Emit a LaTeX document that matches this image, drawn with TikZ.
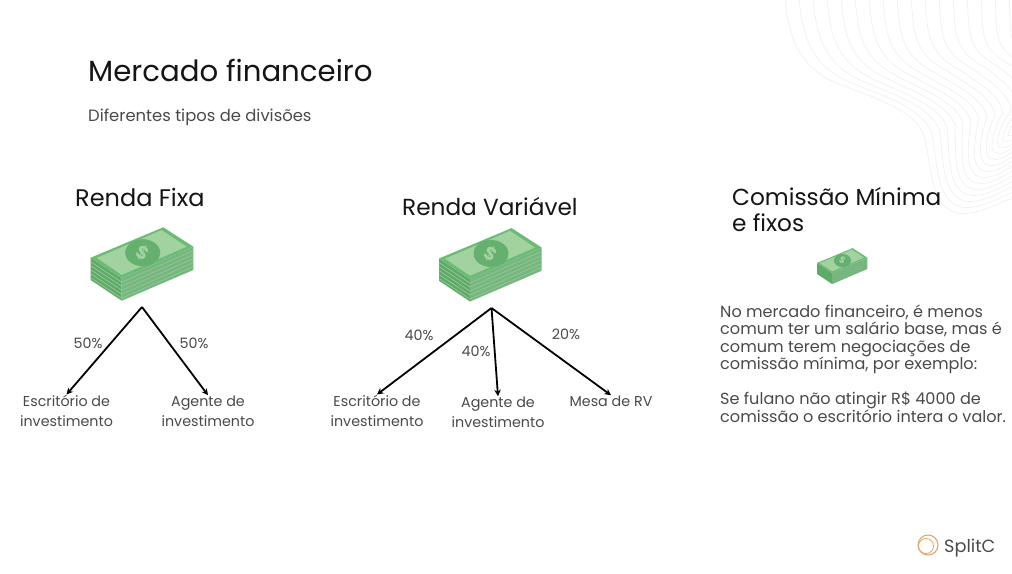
\documentclass[tikz,border=0pt]{standalone}
\usepackage{fontspec}
\setmainfont{Poppins}
\usetikzlibrary{arrows.meta}
\definecolor{titlec}{HTML}{151515}
\definecolor{labelc}{HTML}{4A4A4A}
\definecolor{wave}{HTML}{EFEFEF}
\definecolor{billedge}{HTML}{6CBB75}
\definecolor{billface}{HTML}{A3D2A1}
\definecolor{billseal}{HTML}{65B06F}
\definecolor{billside}{HTML}{5FA96A}
\definecolor{billline}{HTML}{8FC792}
\definecolor{logoc}{HTML}{E5A66B}
\tikzset{
  head/.style={anchor=base west,inner sep=0pt,text=titlec,font=\fontsize{23.2}{26}\selectfont},
  sub/.style={anchor=base west,inner sep=0pt,text=labelc,font=\fontsize{16.4}{18}\selectfont},
  lab/.style={anchor=base,inner sep=0pt,text=labelc,align=center,font=\fontsize{14.3}{20}\selectfont},
  pct/.style={anchor=center,inner sep=0pt,text=labelc,font=\fontsize{14.3}{16}\selectfont},
  para/.style={anchor=base west,inner sep=0pt,text=labelc,align=left,font=\fontsize{16.1}{17.5}\selectfont},
  arr/.style={draw=black,line width=1.8pt,-{Stealth[length=6.5pt,width=6.5pt]}},
}
\newcommand{\moneystack}[4]{%
  \begin{scope}[shift={(#1,#2)},scale=#3]
    \fill[billside] (0,0) -- (31,20.6) -- (31,43) -- (0,22.3) -- cycle;
    \fill[billside!85!white] (31,20.6) -- (102.6,-11) -- (102.6,12.3) -- (31,43) -- cycle;
    \foreach \j in {#4}{
      \draw[billline,line width=0.8pt] (0,\j) -- (31,20.6+\j) -- (102.6,-11+\j);
    }
    \fill[billedge] (0,0) -- (72.6,-30.4) -- (102.6,-11) -- (31,20.6) -- cycle;
    \fill[billface] (6,0.2) -- (71,-27.6) -- (96,-11) -- (31,17.2) -- cycle;
    \fill[billseal] (52,-5) ellipse (17.5 and 13.5);
    \node[inner sep=0pt,text=billface,rotate=-30,transform shape,font=\bfseries\fontsize{18}{18}\selectfont] (seal#1) at (52,-5) {\$};
  \end{scope}}
\begin{document}
\begin{tikzpicture}[x=1pt,y=-1pt]
\useasboundingbox (0,0) rectangle (1012,573);
\fill[white] (0,0) rectangle (1012,573);
\begin{scope}
  \clip (0,0) rectangle (1012,573);
  \foreach \i in {0,...,16}{
    \draw[wave,line width=0.6pt]
      (785+14*\i,-2) .. controls (788+14*\i,30) and (795+13*\i,62-\i) .. (830+13*\i,80-\i)
      .. controls (860+12*\i,94-\i) and (910+9*\i,105-\i) .. (923+8*\i,133-2*\i)
      .. controls (932+6*\i,160-3*\i) and (928+6*\i,205-5*\i) .. (957+4*\i,213-6*\i)
      .. controls (975+3*\i,216-6*\i) and (995+2*\i,205-6*\i) .. (1014+\i,197-6*\i);
  }
\end{scope}

\node[head,font=\fontsize{29.2}{34}\selectfont] (title) at (88,81) {Mercado financeiro};
\node[sub] (subtitle) at (88,121) {Diferentes tipos de divisões};

\node[head,font=\fontsize{24}{26}\selectfont] (rf) at (75,206) {Renda Fixa};
\node[head] (rv) at (402,215) {Renda Variável};
\node[head,align=left] (cm) at (732,231) {Comissão Mínima\\e fixos};

\moneystack{90.7}{257.7}{1}{4,8,12,16,20}
\moneystack{439}{258.5}{1}{4,8,12,16,20}
\moneystack{817}{263}{0.49}{}

\coordinate (apexA) at (142,307);
\coordinate (apexB) at (491.5,308);

\node[lab] (a1) at (66.5,426) {Escritório de\\investimento};
\node[lab] (a2) at (208,426) {Agente de\\investimento};
\node[lab] (b1) at (377,426) {Escritório de\\investimento};
\node[lab] (b2) at (498,427) {Agente de\\investimento};
\node[lab] (b3) at (611,406) {Mesa de RV};

\draw[arr] (apexA) -- (a1.north);
\draw[arr] (apexA) -- (a2.north);
\draw[arr] (apexB) -- (b1.north);
\draw[arr] (apexB) -- (b2.north);
\draw[arr] (apexB) -- (b3.north);

\node[pct] (p1) at (88,343) {50\%};
\node[pct] (p2) at (194,343) {50\%};
\node[pct] (p3) at (419,335) {40\%};
\node[pct] (p4) at (476,351) {40\%};
\node[pct] (p5) at (566,334) {20\%};

\node[para] (body) at (720,422) {No mercado financeiro, é menos\\comum ter um salário base, mas é\\comum terem negociações de\\comissão mínima, por exemplo:\\[17.5pt]Se fulano não atingir R\$ 4000 de\\comissão o escritório intera o valor.};

\draw[logoc,line width=1.1pt] (928,545) circle (10);
\draw[logoc,line width=0.8pt] (926,546) circle (7.5);
\node[anchor=base west,inner sep=0pt,text=labelc,font=\fontsize{17.7}{20}\selectfont] (logo) at (944,552) {SplitC};
\end{tikzpicture}
\end{document}
